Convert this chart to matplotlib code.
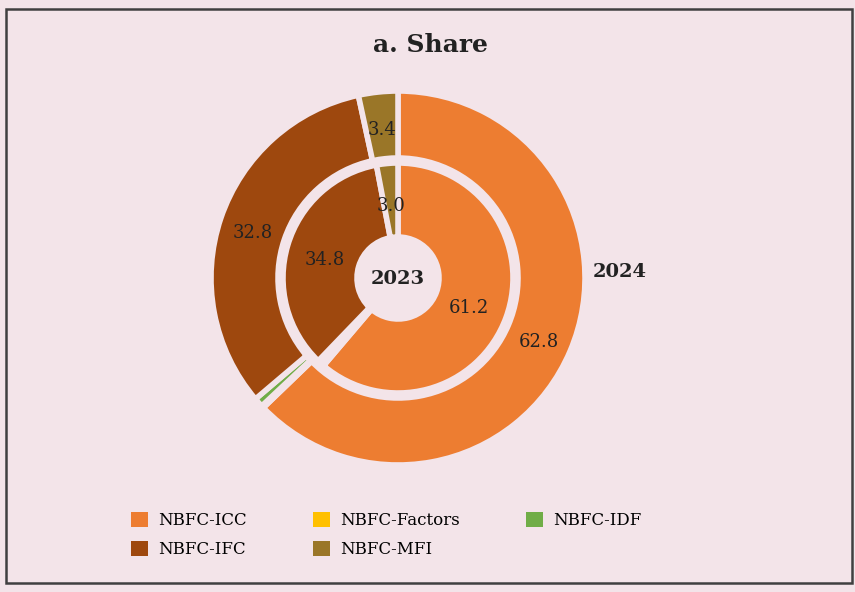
import matplotlib
matplotlib.use("Agg")
import matplotlib.pyplot as plt
import numpy as np
from matplotlib.patches import Rectangle, Patch

# share of NBFC categories (per cent)
categories = ['NBFC-ICC', 'NBFC-Factors', 'NBFC-IDF', 'NBFC-IFC', 'NBFC-MFI']
share_2024 = [62.8, 0.2, 0.8, 32.8, 3.4]
share_2023 = [61.2, 0.4, 0.6, 34.8, 3.0]
colors = ['#ED7D31', '#FFC000', '#70AD47', '#9E480E', '#9A7628']
bg = '#F3E4E9'

plt.rcParams['font.family'] = ['DejaVu Serif']

fig = plt.figure(figsize=(8.55, 5.92), dpi=100)
fig.patch.set_facecolor(bg)
fig.patches.append(Rectangle((6/855, 9/592), 846/855, 574/592, transform=fig.transFigure,
                             fill=False, edgecolor='#404040', linewidth=1.8))

ax = fig.add_axes([198/855, 114/592, 400/855, 400/592])
ax.set_facecolor(bg)
ax.axis('off')

wp = dict(edgecolor=bg, linewidth=4)
outer, _ = ax.pie(share_2024, colors=colors, radius=0.935, startangle=90, counterclock=False,
                  wedgeprops=dict(width=0.335, **wp))
inner, _ = ax.pie(share_2023, colors=colors, radius=0.575, startangle=90, counterclock=False,
                  wedgeprops=dict(width=0.37, **wp))
ax.set_xlim(-1, 1)
ax.set_ylim(-1, 1)
ax.set_aspect('equal')

def label_ring(wedges, vals, r):
    for w, v in zip(wedges, vals):
        if v < 2:
            continue
        ang = np.deg2rad((w.theta1 + w.theta2) / 2)
        ax.text(r * np.cos(ang), r * np.sin(ang) - 0.02, f'{v:.1f}', ha='center', va='center',
                fontsize=13, color='#222222')

label_ring(outer, share_2024, 0.765)
label_ring(inner, share_2023, 0.38)

ax.text(0, -0.005, '2023', ha='center', va='center', fontsize=14, fontweight='bold', color='#222222')
ax.text(1.11, 0.03, '2024', ha='center', va='center', fontsize=14, fontweight='bold', color='#222222')

fig.text(430/855, 1 - 45/592, 'a. Share', ha='center', va='center', fontsize=18, fontweight='bold',
         color='#222222')

order = [0, 3, 1, 4, 2]
handles = [Patch(facecolor=colors[i], label=categories[i]) for i in order]
fig.legend(handles=handles, ncol=3, loc='center left', bbox_to_anchor=(131/855, 1 - 535/592),
           frameon=False, borderpad=0, borderaxespad=0, fontsize=12, handlelength=1.0,
           handleheight=1.0, columnspacing=4.0, handletextpad=0.6, labelspacing=0.75)

fig.savefig('out.png', dpi=100, facecolor=bg)
